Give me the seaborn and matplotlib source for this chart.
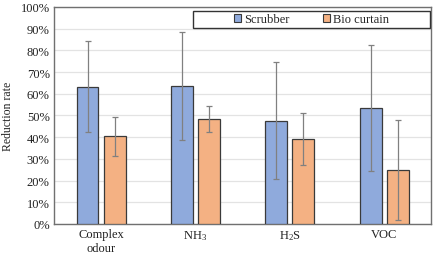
import matplotlib
matplotlib.use("Agg")
import matplotlib.pyplot as plt
import seaborn as sns
import pandas as pd
from matplotlib.patches import Patch, Rectangle
from matplotlib.ticker import PercentFormatter

categories = ["Complex\nodour", "NH$_3$", "H$_2$S", "VOC"]
series = ["Scrubber", "Bio curtain"]
scrubber = [63.2, 63.5, 47.6, 53.4]
scrubber_err = [21.0, 25.0, 27.0, 29.0]
bio = [40.3, 48.5, 39.1, 25.0]
bio_err = [9.0, 6.0, 12.0, 23.0]
colors = ["#8FAADC", "#F4B183"]

sns.set_theme(style="white")
plt.rcParams["font.family"] = ["Liberation Serif", "DejaVu Serif"]
plt.rcParams["mathtext.fontset"] = "custom"
plt.rcParams["mathtext.rm"] = "Liberation Serif"
plt.rcParams["mathtext.default"] = "regular"

df = pd.DataFrame({
    "category": categories * 2,
    "series": [series[0]] * 4 + [series[1]] * 4,
    "value": scrubber + bio,
    "err": scrubber_err + bio_err,
})

fig = plt.figure(figsize=(4.38, 2.55), dpi=100)
ax = fig.add_axes([0.123, 0.118, 0.862, 0.851])
sns.barplot(data=df, x="category", y="value", hue="series", palette=colors,
            saturation=1, width=0.575, gap=0.19, edgecolor="#3a3a3a", linewidth=0.9,
            errorbar=None, legend=False, ax=ax, zorder=3)

# error bars at bar centres
for cont, errs in zip(ax.containers, [scrubber_err, bio_err]):
    for rect, e in zip(cont, errs):
        xc = rect.get_x() + rect.get_width() / 2
        ax.errorbar(xc, rect.get_height(), yerr=e, fmt="none", ecolor="#808080",
                    elinewidth=0.9, capsize=2, capthick=0.9, zorder=4)

ax.set_ylim(0, 100)
ax.set_xlim(-0.5, 3.5)
ax.set_yticks(range(0, 101, 10))
ax.yaxis.set_major_formatter(PercentFormatter(decimals=0))
ax.grid(axis="y", color="#e3e3e3", linewidth=0.9, zorder=0)
ax.set_axisbelow(True)
ax.tick_params(axis="both", length=0, labelsize=9, colors="#222222", pad=3)
ax.set_xlabel("")
ax.set_ylabel("Reduction rate", fontsize=8.5, color="#222222", labelpad=5)
for s in ax.spines.values():
    s.set_color("#707070")
    s.set_linewidth(1.0)
    s.set_visible(True)

# legend box
ax.add_patch(Rectangle((0.369, 0.903), 0.626, 0.079, transform=ax.transAxes,
                       facecolor="white", edgecolor="#333333", linewidth=1.0,
                       zorder=5))
handles = [Patch(facecolor=c, edgecolor="#3a3a3a", linewidth=0.8) for c in colors]
leg = ax.legend(handles, series, ncol=2, loc="center",
                bbox_to_anchor=(0.682, 0.9425),
                fontsize=9, frameon=False,
                handlelength=0.6, handleheight=0.6, handletextpad=0.2,
                borderpad=0.1, borderaxespad=0, columnspacing=2.7)
leg.set_zorder(6)

fig.savefig("out.png", dpi=100)
